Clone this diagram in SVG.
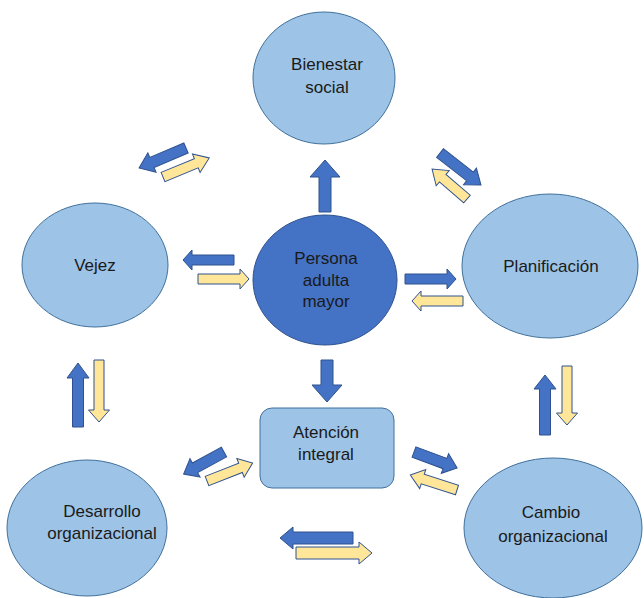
<svg xmlns="http://www.w3.org/2000/svg" width="644" height="598" viewBox="0 0 644 598">
<style>
.node{fill:#9DC3E6;stroke:#41719C;stroke-width:1}
.core{fill:#4472C4;stroke:#2F528F;stroke-width:1}
.t{font-family:"Liberation Sans",Arial,sans-serif;font-size:17px;fill:#1a1a1a;text-anchor:middle}
.b{fill:#4472C4;stroke:#2F528F;stroke-width:1}
.y{fill:#FFE699;stroke:#2F528F;stroke-width:1}
</style>
<rect width="644" height="598" fill="#ffffff"/>
<g id="bienestar"><ellipse class="node" cx="324" cy="78" rx="71" ry="66"/><text class="t" x="327" y="70">Bienestar</text><text class="t" x="327" y="93">social</text></g>
<g id="vejez"><ellipse class="node" cx="95" cy="265" rx="73" ry="62"/><text class="t" x="95" y="271">Vejez</text></g>
<g id="persona"><ellipse class="core" cx="325" cy="280" rx="72" ry="65"/><text class="t" x="326" y="264">Persona</text><text class="t" x="326" y="286">adulta</text><text class="t" x="326" y="307">mayor</text></g>
<g id="planificacion"><ellipse class="node" cx="550" cy="266" rx="88" ry="72"/><text class="t" x="551" y="272">Planificación</text></g>
<g id="atencion"><rect class="node" x="260" y="408" width="134" height="80" rx="12"/><text class="t" x="326" y="438">Atención</text><text class="t" x="326" y="460">integral</text></g>
<g id="desarrollo"><ellipse class="node" cx="87" cy="528" rx="80" ry="68"/><text class="t" x="102" y="517">Desarrollo</text><text class="t" x="102" y="539">organizacional</text></g>
<g id="cambio"><ellipse class="node" cx="553" cy="528" rx="89" ry="70"/><text class="t" x="551" y="518">Cambio</text><text class="t" x="553" y="542">organizacional</text></g>
<g id="connectors">
<polygon class="b" transform="translate(186,148) rotate(156.9)" points="0,-5.5 37,-5.5 37,-10.5 51,0 37,10.5 37,5.5 0,5.5"/>
<polygon class="y" transform="translate(163,177) rotate(-22.4)" points="0,-5 36,-5 36,-10 50,0 36,10 36,5 0,5"/>
<polygon class="b" transform="translate(440,153) rotate(38)" points="0,-5.5 38,-5.5 38,-10.5 52,0 38,10.5 38,5.5 0,5.5"/>
<polygon class="y" transform="translate(467,199) rotate(-139.4)" points="0,-5 32,-5 32,-10 46,0 32,10 32,5 0,5"/>
<polygon class="b" transform="translate(234,260) rotate(180)" points="0,-5 42,-5 42,-10 51,0 42,10 42,5 0,5"/>
<polygon class="y" transform="translate(198,279) rotate(0)" points="0,-5 42,-5 42,-10 51,0 42,10 42,5 0,5"/>
<polygon class="b" transform="translate(405,279) rotate(0)" points="0,-5 42,-5 42,-10 51,0 42,10 42,5 0,5"/>
<polygon class="y" transform="translate(463,301) rotate(180)" points="0,-5 42,-5 42,-10 51,0 42,10 42,5 0,5"/>
<polygon class="b" transform="translate(325,212) rotate(-90)" points="0,-6 35,-6 35,-15 52,0 35,15 35,6 0,6"/>
<polygon class="b" transform="translate(327,360) rotate(90)" points="0,-6 25,-6 25,-15 42,0 25,15 25,6 0,6"/>
<polygon class="b" transform="translate(78,427) rotate(-90)" points="0,-5.5 49,-5.5 49,-11 64,0 49,11 49,5.5 0,5.5"/>
<polygon class="y" transform="translate(99,360) rotate(90)" points="0,-5 50,-5 50,-10.5 62,0 50,10.5 50,5 0,5"/>
<polygon class="b" transform="translate(545,435) rotate(-90)" points="0,-5.5 46,-5.5 46,-11 60,0 46,11 46,5.5 0,5.5"/>
<polygon class="y" transform="translate(567,366) rotate(90)" points="0,-5 47,-5 47,-10.5 59,0 47,10.5 47,5 0,5"/>
<polygon class="b" transform="translate(224,452) rotate(151.4)" points="0,-5.5 33,-5.5 33,-10.5 46,0 33,10.5 33,5.5 0,5.5"/>
<polygon class="y" transform="translate(207,481) rotate(-21.4)" points="0,-5 36,-5 36,-10 49,0 36,10 36,5 0,5"/>
<polygon class="b" transform="translate(414,452) rotate(20.4)" points="0,-5.5 33,-5.5 33,-10.5 46,0 33,10.5 33,5.5 0,5.5"/>
<polygon class="y" transform="translate(457,490) rotate(-162.3)" points="0,-5 36,-5 36,-10 49,0 36,10 36,5 0,5"/>
<polygon class="b" transform="translate(353,538) rotate(180)" points="0,-6 60,-6 60,-11 73,0 60,11 60,6 0,6"/>
<polygon class="y" transform="translate(296,553) rotate(0)" points="0,-6 63,-6 63,-11 76,0 63,11 63,6 0,6"/>
</g>
</svg>
